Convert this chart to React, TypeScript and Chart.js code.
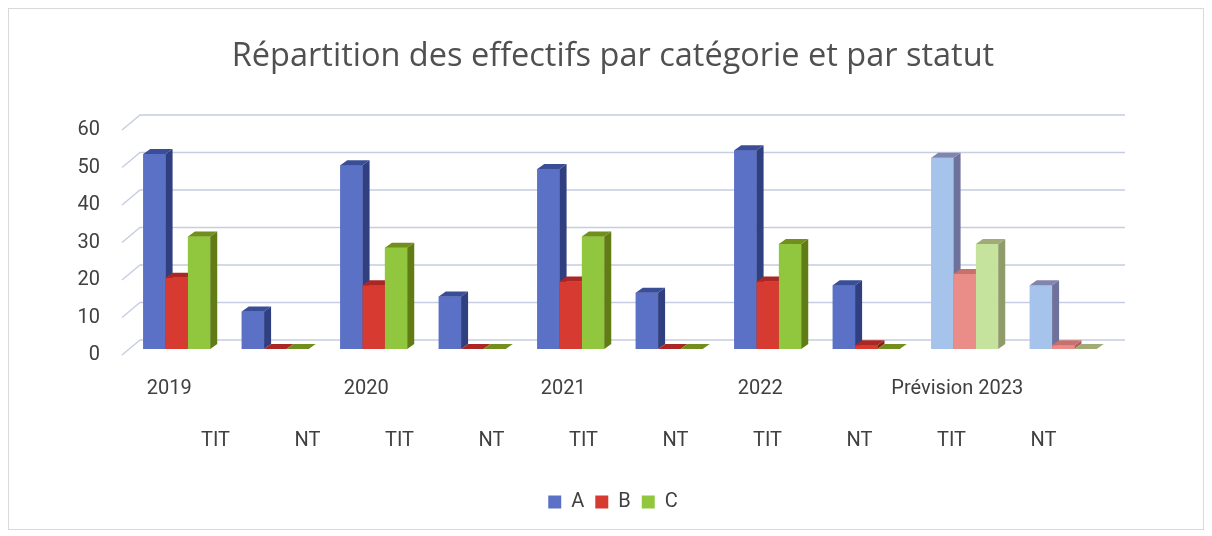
import React, { useEffect, useRef } from "react";
import { Chart, registerables } from "chart.js";

Chart.register(...registerables);

// ---- data ----
const titleText = "Répartition des effectifs par catégorie et par statut";
const categories = ["TIT", "NT", "TIT", "NT", "TIT", "NT", "TIT", "NT", "TIT", "NT"];
const years = ["2019", "2020", "2021", "2022", "Prévision 2023"];
const seriesNames = ["A", "B", "C"];
const valuesA = [52, 10, 49, 14, 48, 15, 53, 17, 51, 17];
const valuesB = [19, 0, 17, 0, 18, 0, 18, 1, 20, 1];
const valuesC = [30, 0, 27, 0, 30, 0, 28, 0, 28, 0];
const yTicks = [0, 10, 20, 30, 40, 50, 60];
const forecastFrom = 8; // categories from this index on are the forecast (lighter)

// ---- styles ----
const FONT = "Roboto, 'Open Sans', sans-serif";
const TITLE_FONT = "'Open Sans', Roboto, sans-serif";
const palette = [
  { front: "#5a71c6", side: "#2f3f80", top: "#3a4e98", lightFront: "#a6c3ec", lightSide: "#6e719b", lightTop: "#8185ad" },
  { front: "#d73a31", side: "#8c1c1a", top: "#ab2723", lightFront: "#ea8d89", lightSide: "#b5615d", lightTop: "#c8716c" },
  { front: "#90c73e", side: "#617c14", top: "#728e1c", lightFront: "#c6e39d", lightSide: "#8f9b69", lightTop: "#a0ac76" },
];
const DX = 7;
const DY = 5;
const WALL_DX = 12.5;
const WALL_DY = 9;

const threeD = {
  id: "threeD",
  beforeDatasetsDraw(chart: any) {
    const { ctx, chartArea, scales } = chart;
    const y = scales.y;
    ctx.save();
    ctx.strokeStyle = "#c5cde0";
    ctx.lineWidth = 1.3;
    y.ticks.forEach((t: any) => {
      const py = y.getPixelForValue(t.value);
      ctx.beginPath();
      ctx.moveTo(chartArea.left - 5.5, py + 6);
      ctx.lineTo(chartArea.left + WALL_DX, py - WALL_DY);
      ctx.lineTo(chartArea.right + WALL_DX, py - WALL_DY);
      ctx.stroke();
    });
    ctx.restore();
  },
  afterDatasetsDraw(chart: any) {
    const { ctx } = chart;
    ctx.save();
    for (let d = 0; d < chart.data.datasets.length; d++) {
      const meta = chart.getDatasetMeta(d);
      const pal = palette[d];
      meta.data.forEach((el: any, i: number) => {
        const { x, y, base, width } = el.getProps(["x", "y", "base", "width"], true);
        const l = x - width / 2;
        const r = x + width / 2;
        const light = i >= forecastFrom;
        el.draw(ctx);
        // side face
        ctx.fillStyle = light ? pal.lightSide : pal.side;
        ctx.beginPath();
        ctx.moveTo(r, y);
        ctx.lineTo(r + DX, y - DY);
        ctx.lineTo(r + DX, base - DY);
        ctx.lineTo(r, base);
        ctx.closePath();
        ctx.fill();
        // top face
        ctx.fillStyle = light ? pal.lightTop : pal.top;
        ctx.beginPath();
        ctx.moveTo(l, y);
        ctx.lineTo(l + DX, y - DY);
        ctx.lineTo(r + DX, y - DY);
        ctx.lineTo(r, y);
        ctx.closePath();
        ctx.fill();
      });
    }
    ctx.restore();
  },
  afterDraw(chart: any) {
    const { ctx, chartArea, scales } = chart;
    const x = scales.x;
    const cx = (chartArea.left + chartArea.right) / 2;
    ctx.save();
    ctx.fillStyle = "#404040";
    ctx.textAlign = "center";
    ctx.textBaseline = "alphabetic";
    ctx.font = `20px ${FONT}`;
    years.forEach((yr, k) => {
      const px = x.getPixelForValue(2 * k) - 7.5;
      ctx.fillText(yr, px, chartArea.bottom + 45);
    });
    categories.forEach((c, i) => {
      const px = x.getPixelForValue(i);
      const lx = cx + 0.934 * (px - cx) + 9.5; // perspective of the floor labels
      ctx.fillText(c, lx, chartArea.bottom + 97);
    });
    ctx.restore();
  },
};

export default function App() {
  const ref = useRef<HTMLCanvasElement>(null);
  useEffect(() => {
    const canvas = ref.current!;
    const seriesValues = [valuesA, valuesB, valuesC];
    const chart = new Chart(canvas, {
      type: "bar",
      data: {
        labels: categories,
        datasets: seriesValues.map((vals, s) => ({
          label: seriesNames[s],
          data: vals,
          backgroundColor: (c: any) =>
            c.dataIndex !== undefined && c.dataIndex >= forecastFrom ? palette[s].lightFront : palette[s].front,
          borderWidth: 0,
          categoryPercentage: 0.68,
          barPercentage: 1,
        })),
      },
      options: {
        responsive: false,
        animation: false,
        layout: { padding: { left: 14, right: 0, top: 0, bottom: 7 } },
        plugins: {
          title: {
            display: true,
            text: titleText,
            color: "#505050",
            font: { family: TITLE_FONT, size: 32.5, weight: "normal" },
            padding: { top: 28.1, bottom: 47.9 },
          },
          legend: {
            position: "bottom",
            labels: {
              font: { family: FONT, size: 20 },
              color: "#404040",
              boxWidth: 13,
              boxHeight: 13,
              padding: 11,
            },
          },
          tooltip: { enabled: false },
        },
        scales: {
          x: {
            grid: { display: false },
            border: { display: false },
            ticks: { display: false },
            afterFit: (s: any) => {
              s.height = 132;
            },
          },
          y: {
            min: 0,
            max: 60,
            afterBuildTicks: (s: any) => {
              s.ticks = yTicks.map((v) => ({ value: v }));
            },
            ticks: {
              padding: 27.5,
              labelOffset: 6,
              color: "#404040",
              font: { family: FONT, size: 20 },
            },
            grid: { display: false, drawTicks: false },
            border: { display: false },
            afterFit: (s: any) => {
              s.width = 104.5;
            },
          },
          yRight: {
            position: "right",
            grid: { display: false, drawTicks: false },
            border: { display: false },
            ticks: { display: false },
            afterFit: (s: any) => {
              s.width = 90.5;
            },
          },
        },
      } as any,
      plugins: [threeD],
    });
    return () => chart.destroy();
  }, []);

  return (
    <div style={{ width: 1194, height: 520, border: "1px solid #d9d9d9", background: "#fff" }}>
      <canvas ref={ref} width={1194} height={520} style={{ display: "block" }} />
    </div>
  );
}
